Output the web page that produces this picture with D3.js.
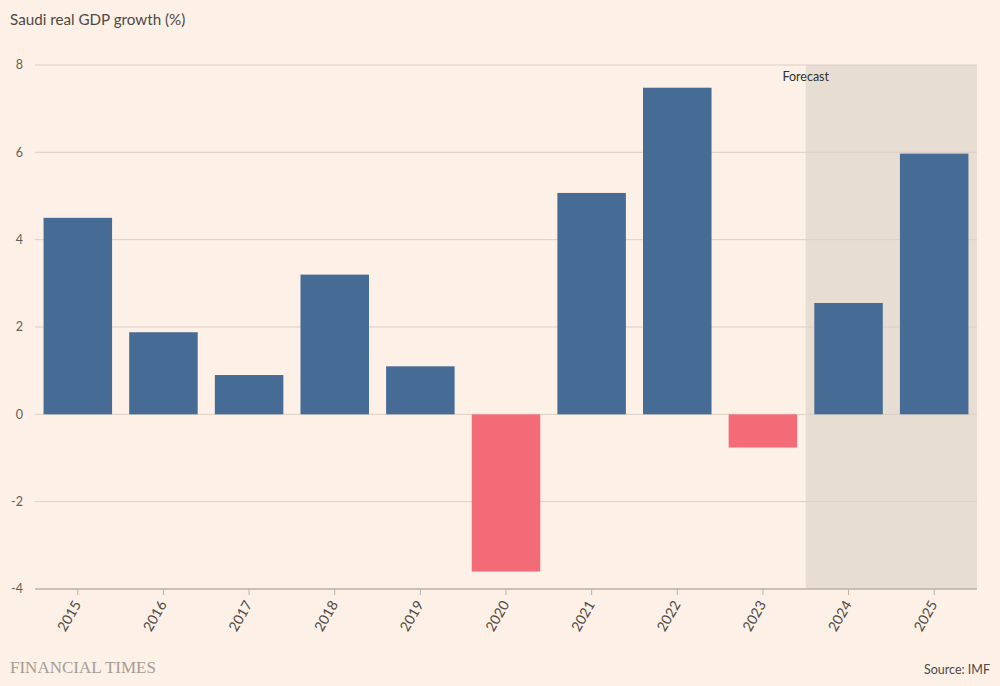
<!DOCTYPE html>
<html><head><meta charset="utf-8">
<script src="https://cdn.jsdelivr.net/npm/d3@7"></script>
<style>
body{margin:0;background:#fdf0e6;}
svg{display:block;}
</style></head><body>
<svg id="c" width="1000" height="686"></svg>
<script>
const years = ["2015","2016","2017","2018","2019","2020","2021","2022","2023","2024","2025"];
const growth = [4.5, 1.88, 0.9, 3.2, 1.1, -3.6, 5.07, 7.48, -0.76, 2.55, 5.97];
const forecastYears = ["2024","2025"];
const yTicks = [-4, -2, 0, 2, 4, 6, 8];

const svg = d3.select("#c");
const W = 1000, H = 686;
const m = {left:35, right:23, top:65, bottom:97};
const x = d3.scaleBand().domain(years).range([m.left, W - m.right]).paddingInner(0.2).paddingOuter(0.1);
const y = d3.scaleLinear().domain([-4, 8]).range([H - m.bottom, m.top]);

svg.append("rect").attr("width", W).attr("height", H).attr("fill", "#fdf0e6");

// forecast shading
const step = x.step();
const fx0 = x(forecastYears[0]) - step * x.paddingInner() / 2;
svg.append("rect")
  .attr("x", fx0).attr("y", y(8))
  .attr("width", (W - m.right) - fx0).attr("height", y(-4) - y(8))
  .attr("fill", "#e8ddd2");

// gridlines
svg.append("g").selectAll("line").data(yTicks.filter(d => d !== -4)).join("line")
  .attr("x1", m.left).attr("x2", W - m.right)
  .attr("y1", d => y(d)).attr("y2", d => y(d))
  .attr("stroke", "#dccfc5").attr("stroke-width", 1);

// y labels
svg.append("g").selectAll("text").data(yTicks).join("text")
  .attr("x", 23).attr("y", d => y(d)).attr("dy", "0.35em")
  .attr("text-anchor", "end")
  .attr("font-family", "Lato, 'Open Sans', sans-serif").attr("font-size", 12.5)
  .attr("fill", "#66605c")
  .text(d => d);

// bars
svg.append("g").selectAll("rect").data(years.map((yr, i) => ({yr, v: growth[i]}))).join("rect")
  .attr("x", d => x(d.yr)).attr("width", x.bandwidth())
  .attr("y", d => y(Math.max(0, d.v)))
  .attr("height", d => Math.abs(y(d.v) - y(0)))
  .attr("fill", d => d.v >= 0 ? "#466c95" : "#f36b76");

// x axis
const xAxis = svg.append("g").attr("transform", `translate(0,${y(-4)})`)
  .call(d3.axisBottom(x).tickSize(6).tickSizeOuter(0));
xAxis.select(".domain").attr("stroke", "#bfb1a6").attr("stroke-width", 1.5)
  .attr("d", `M${m.left},0H${W - m.right}`);
xAxis.selectAll(".tick line").attr("stroke", "#bfb1a6");
xAxis.selectAll(".tick text")
  .attr("font-family", "Lato, 'Open Sans', sans-serif").attr("font-size", 14)
  .attr("fill", "#4d4845")
  .attr("text-anchor", "end")
  .attr("transform", "translate(0,12) rotate(-60)")
  .attr("dx", "0").attr("dy", "0.35em")
  .attr("y", 0).attr("x", -1);

// Forecast label
svg.append("text").attr("x", fx0).attr("y", y(8) + 16)
  .attr("text-anchor", "middle")
  .attr("font-family", "Lato, 'Open Sans', sans-serif").attr("font-size", 12.5)
  .attr("fill", "#33302e").text("Forecast");

// title
svg.append("text").attr("x", 10).attr("y", 25)
  .attr("font-family", "Lato, 'Open Sans', sans-serif").attr("font-size", 15.2)
  .attr("fill", "#4d4845").text("Saudi real GDP growth (%)");

// footer
svg.append("text").attr("x", 10).attr("y", 673)
  .attr("font-family", "'Liberation Serif', 'DejaVu Serif', serif").attr("font-size", 17)
  .attr("fill", "#a59c95").text("FINANCIAL TIMES");
svg.append("text").attr("x", 990).attr("y", 674)
  .attr("text-anchor", "end")
  .attr("font-family", "Lato, 'Open Sans', sans-serif").attr("font-size", 12.5)
  .attr("fill", "#4d4845").text("Source: IMF");
</script>
</body></html>
